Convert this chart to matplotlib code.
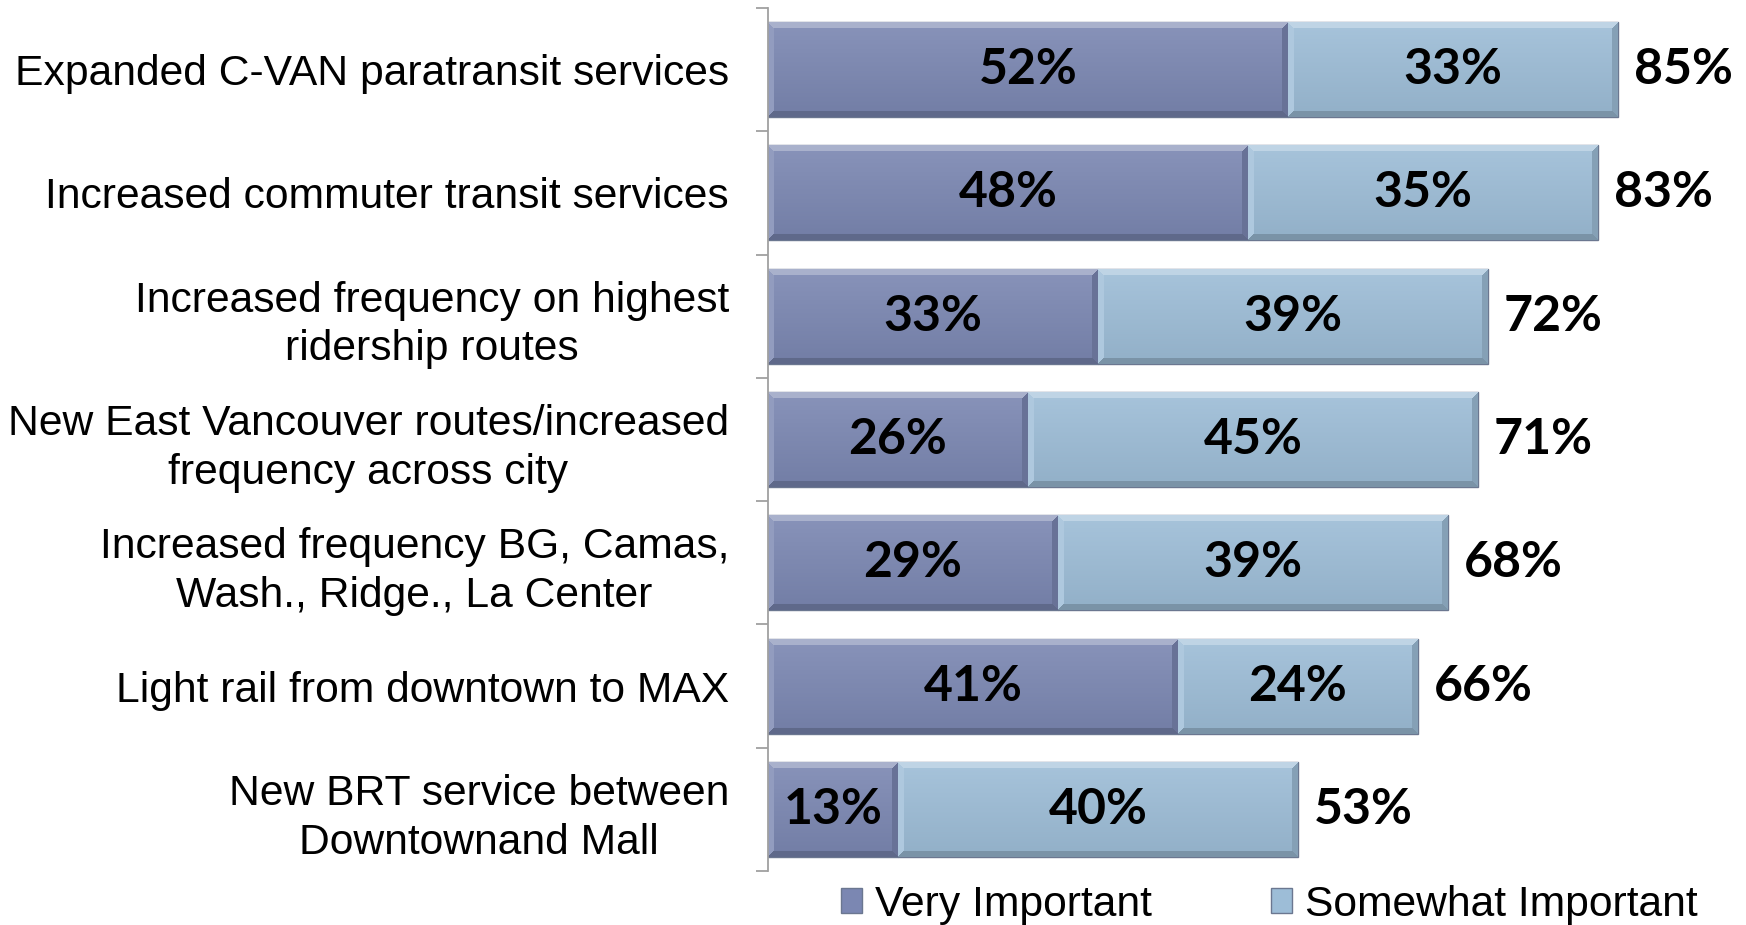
import numpy as np
import matplotlib
matplotlib.use("Agg")
import matplotlib.pyplot as plt
from matplotlib.patches import Patch
from matplotlib.colors import to_rgb

categories = [
    "Expanded C-VAN paratransit services",
    "Increased commuter transit services",
    "Increased frequency on highest\nridership routes",
    "New East Vancouver routes/increased\nfrequency across city",
    "Increased frequency BG, Camas,\nWash., Ridge., La Center",
    "Light rail from downtown to MAX",
    "New BRT service between\nDowntownand Mall",
]
very_important = [52, 48, 33, 26, 29, 41, 13]
somewhat_important = [33, 35, 39, 45, 39, 24, 40]
total_important = [85, 83, 72, 71, 68, 66, 53]
series_names = ["Very Important", "Somewhat Important"]

DARK = "#7b87b2"
LIGHT = "#9dbdd7"
EDGE = "#6b7790"


def shade(c, f):
    c = np.array(to_rgb(c))
    if f >= 0:
        return c + (1 - c) * f
    return c * (1 + f)


def bevel_image(color, wpx, hpx, b=6):
    wpx, hpx = max(int(wpx), 2), max(int(hpx), 2)
    img = np.zeros((hpx, wpx, 3))
    rows = np.arange(hpx)[:, None] * np.ones((1, wpx))
    cols = np.ones((hpx, 1)) * np.arange(wpx)[None, :]
    # soft vertical sheen: lighter top, darker bottom
    t = rows / (hpx - 1)
    top_c = shade(color, 0.10)
    bot_c = shade(color, -0.07)
    for k in range(3):
        img[:, :, k] = top_c[k] * (1 - t) + bot_c[k] * t
    dt, db = rows, hpx - 1 - rows
    dl, dr = cols, wpx - 1 - cols
    dmin = np.minimum(np.minimum(dt, db), np.minimum(dl, dr))
    edge = dmin < b
    for d, f in [(dl, 0.18), (dr, -0.15), (db, -0.22), (dt, 0.35)]:
        m = edge & (d == dmin)
        img[m] = shade(color, f)
    return np.clip(img, 0, 1)


fig = plt.figure(figsize=(17.46, 9.25), dpi=100)
ax = fig.add_axes([768 / 1746, 1 - 871 / 925, 950 / 1746, (871 - 8) / 925])

y = np.arange(len(categories))
h = 0.77
bars1 = ax.barh(y, very_important, height=h, color=DARK, edgecolor=EDGE, linewidth=1)
bars2 = ax.barh(y, somewhat_important, left=very_important, height=h,
                color=LIGHT, edgecolor=EDGE, linewidth=1)

ax.set_xlim(0, 95)
ax.set_ylim(len(categories) - 0.5, -0.5)

# bevelled fill clipped to each bar
for bars, col in [(bars1, DARK), (bars2, LIGHT)]:
    for p in bars:
        x0, y0, w, hh = p.get_x(), p.get_y(), p.get_width(), p.get_height()
        a = ax.transData.transform((x0, y0))
        b = ax.transData.transform((x0 + w, y0 + hh))
        img = bevel_image(col, abs(b[0] - a[0]), abs(b[1] - a[1]))
        im = ax.imshow(img, extent=(x0, x0 + w, y0 + hh, y0), origin="upper",
                       aspect="auto", zorder=2.5, interpolation="nearest")
        im.set_clip_path(p)

ax.set_xlim(0, 95)
ax.set_ylim(len(categories) - 0.5, -0.5)

val_font = dict(family=["Lato", "DejaVu Sans"], weight="bold", fontsize=36, color="black")
for i in range(len(categories)):
    ax.text(very_important[i] / 2, y[i], f"{very_important[i]}%", ha="center",
            va="center", zorder=4, **val_font)
    ax.text(very_important[i] + somewhat_important[i] / 2, y[i],
            f"{somewhat_important[i]}%", ha="center", va="center", zorder=4, **val_font)
    ax.text(very_important[i] + somewhat_important[i] + 1.6, y[i],
            f"{total_important[i]}%", ha="left", va="center", zorder=4, **val_font)

ax.set_yticks(y)
ax.set_yticklabels(categories, fontsize=30.7, family="Liberation Sans", linespacing=1.28)
for t in ax.get_yticklabels():
    t.set_multialignment("center")
ax.set_yticks(np.arange(-0.5, len(categories)), minor=True)
ax.tick_params(axis="y", which="major", length=0, pad=28)
ax.tick_params(axis="y", which="minor", length=9, width=1.3, color="#a0a0a0")
ax.xaxis.set_visible(False)
for s in ["top", "right", "bottom"]:
    ax.spines[s].set_visible(False)
ax.spines["left"].set_color("#a0a0a0")
ax.spines["left"].set_linewidth(1.3)

handles = [Patch(facecolor=DARK, edgecolor=EDGE), Patch(facecolor=LIGHT, edgecolor=EDGE)]
fig.legend(handles, series_names, loc="center", bbox_to_anchor=(0.727, 0.022), ncol=2,
           frameon=False, prop=dict(family="Liberation Sans", size=30.7),
           handlelength=0.5, handleheight=0.5, handletextpad=0.3, columnspacing=2.8)

fig.savefig("out.png", dpi=100)
